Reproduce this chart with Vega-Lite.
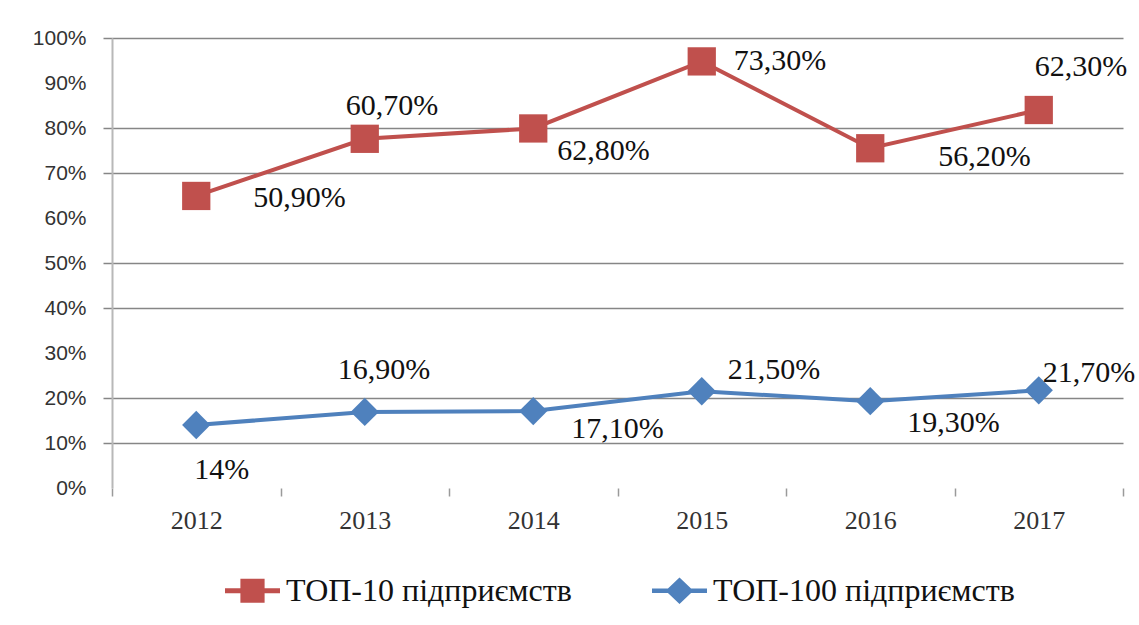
{
  "$schema": "https://vega.github.io/schema/vega-lite/v6.json",
  "width": 1011,
  "height": 450,
  "autosize": {"type": "none"},
  "padding": {"left": 112, "top": 38, "right": 16, "bottom": 137},
  "background": "white",
  "config": {"view": {"stroke": null}, "font": "Liberation Serif"},
  "data": {
    "values": [
      {"year": "2012", "series": "ТОП-10 підприємств", "value": 0.509, "label": "50,90%"},
      {"year": "2013", "series": "ТОП-10 підприємств", "value": 0.607, "label": "60,70%"},
      {"year": "2014", "series": "ТОП-10 підприємств", "value": 0.628, "label": "62,80%"},
      {"year": "2015", "series": "ТОП-10 підприємств", "value": 0.733, "label": "73,30%"},
      {"year": "2016", "series": "ТОП-10 підприємств", "value": 0.562, "label": "56,20%"},
      {"year": "2017", "series": "ТОП-10 підприємств", "value": 0.623, "label": "62,30%"},
      {"year": "2012", "series": "ТОП-100 підприємств", "value": 0.14, "label": "14%"},
      {"year": "2013", "series": "ТОП-100 підприємств", "value": 0.169, "label": "16,90%"},
      {"year": "2014", "series": "ТОП-100 підприємств", "value": 0.171, "label": "17,10%"},
      {"year": "2015", "series": "ТОП-100 підприємств", "value": 0.215, "label": "21,50%"},
      {"year": "2016", "series": "ТОП-100 підприємств", "value": 0.193, "label": "19,30%"},
      {"year": "2017", "series": "ТОП-100 підприємств", "value": 0.217, "label": "21,70%"}
    ]
  },
  "transform": [
    {"stack": "value", "groupby": ["year"], "sort": [{"field": "series", "order": "descending"}], "as": ["v0", "v1"]}
  ],
  "encoding": {
    "x": {
      "field": "year", "type": "ordinal",
      "scale": {"type": "band", "paddingInner": 0, "paddingOuter": 0},
      "axis": {
        "title": null, "labelAngle": 0, "domain": false, "grid": false,
        "tickBand": "extent", "ticks": true, "tickSize": 8, "tickColor": "#9a9a9a", "tickWidth": 1.5,
        "labelFont": "Liberation Serif", "labelFontSize": 26, "labelColor": "#333333", "labelPadding": 11
      }
    },
    "y": {
      "field": "v1", "type": "quantitative",
      "scale": {"domain": [0, 1], "nice": false},
      "axis": {
        "title": null,
        "values": [0, 0.1, 0.2, 0.3, 0.4, 0.5, 0.6, 0.7, 0.8, 0.9, 1],
        "format": ".0%",
        "labelFont": "Liberation Sans", "labelFontSize": 21, "labelColor": "#333333", "labelPadding": 17,
        "domainColor": "#b8b8b8", "domainWidth": 2,
        "tickSize": 9, "tickColor": "#868686", "tickWidth": 1.5,
        "tickOpacity": {"condition": {"test": "datum.value === 0 || datum.value === 0.3 || datum.value === 0.6 || datum.value === 0.9", "value": 0}, "value": 1},
        "grid": true, "gridColor": "#868686", "gridWidth": 1.5,
        "gridOpacity": {"condition": {"test": "datum.value === 0 || datum.value === 0.3 || datum.value === 0.6 || datum.value === 0.9", "value": 0}, "value": 1}
      }
    }
  },
  "layer": [
    {
      "mark": {"type": "line", "strokeWidth": 4},
      "encoding": {
        "color": {
          "field": "series", "type": "nominal",
          "scale": {"domain": ["ТОП-10 підприємств", "ТОП-100 підприємств"], "range": ["#C0504D", "#4F81BD"]},
          "legend": {
            "orient": "none", "legendX": 113, "legendY": 525, "direction": "horizontal", "title": null,
            "labelFont": "Liberation Serif", "labelFontSize": 32, "labelColor": "#111111", "labelLimit": 500,
            "symbolSize": 3025, "columnPadding": 80, "labelOffset": 6,
            "encode": {
              "symbols": {
                "update": {
                  "shape": {"signal": "datum.value === 'ТОП-10 підприємств' ? 'M-1,-0.09H-0.44V-0.44H0.44V-0.09H1V0.09H0.44V0.44H-0.44V0.09H-1Z' : 'M-1,-0.08H-0.42L0,-0.48L0.42,-0.08H1V0.08H0.42L0,0.48L-0.42,0.08H-1Z'"},
                  "fill": {"signal": "scale('color', datum.value)"},
                  "stroke": {"value": "transparent"},
                  "strokeWidth": {"value": 0},
                  "opacity": {"value": 1}
                }
              }
            }
          }
        }
      }
    },
    {
      "transform": [{"filter": "datum.series === 'ТОП-10 підприємств'"}],
      "mark": {"type": "point", "shape": "square", "filled": true, "size": 800, "opacity": 1, "color": "#C0504D"}
    },
    {
      "transform": [{"filter": "datum.series === 'ТОП-100 підприємств'"}],
      "mark": {"type": "point", "shape": "diamond", "filled": true, "size": 800, "opacity": 1, "color": "#4F81BD"}
    },
    {"transform": [{"filter": "datum.label === '50,90%'"}], "mark": {"type": "text", "align": "left", "baseline": "middle", "dx": 57, "dy": 2, "font": "Liberation Serif", "fontSize": 30, "color": "#111111"}, "encoding": {"text": {"field": "label"}}},
    {"transform": [{"filter": "datum.label === '60,70%'"}], "mark": {"type": "text", "align": "left", "baseline": "middle", "dx": -19, "dy": -33, "font": "Liberation Serif", "fontSize": 30, "color": "#111111"}, "encoding": {"text": {"field": "label"}}},
    {"transform": [{"filter": "datum.label === '62,80%'"}], "mark": {"type": "text", "align": "left", "baseline": "middle", "dx": 24, "dy": 23, "font": "Liberation Serif", "fontSize": 30, "color": "#111111"}, "encoding": {"text": {"field": "label"}}},
    {"transform": [{"filter": "datum.label === '73,30%'"}], "mark": {"type": "text", "align": "left", "baseline": "middle", "dx": 32, "dy": 0, "font": "Liberation Serif", "fontSize": 30, "color": "#111111"}, "encoding": {"text": {"field": "label"}}},
    {"transform": [{"filter": "datum.label === '56,20%'"}], "mark": {"type": "text", "align": "left", "baseline": "middle", "dx": 68, "dy": 9, "font": "Liberation Serif", "fontSize": 30, "color": "#111111"}, "encoding": {"text": {"field": "label"}}},
    {"transform": [{"filter": "datum.label === '62,30%'"}], "mark": {"type": "text", "align": "left", "baseline": "middle", "dx": -4, "dy": -43, "font": "Liberation Serif", "fontSize": 30, "color": "#111111"}, "encoding": {"text": {"field": "label"}}},
    {"transform": [{"filter": "datum.label === '14%'"}], "mark": {"type": "text", "align": "left", "baseline": "middle", "dx": -2, "dy": 45, "font": "Liberation Serif", "fontSize": 30, "color": "#111111"}, "encoding": {"text": {"field": "label"}}},
    {"transform": [{"filter": "datum.label === '16,90%'"}], "mark": {"type": "text", "align": "left", "baseline": "middle", "dx": -27, "dy": -42, "font": "Liberation Serif", "fontSize": 30, "color": "#111111"}, "encoding": {"text": {"field": "label"}}},
    {"transform": [{"filter": "datum.label === '17,10%'"}], "mark": {"type": "text", "align": "left", "baseline": "middle", "dx": 38, "dy": 18, "font": "Liberation Serif", "fontSize": 30, "color": "#111111"}, "encoding": {"text": {"field": "label"}}},
    {"transform": [{"filter": "datum.label === '21,50%'"}], "mark": {"type": "text", "align": "left", "baseline": "middle", "dx": 26, "dy": -21, "font": "Liberation Serif", "fontSize": 30, "color": "#111111"}, "encoding": {"text": {"field": "label"}}},
    {"transform": [{"filter": "datum.label === '19,30%'"}], "mark": {"type": "text", "align": "left", "baseline": "middle", "dx": 37, "dy": 22, "font": "Liberation Serif", "fontSize": 30, "color": "#111111"}, "encoding": {"text": {"field": "label"}}},
    {"transform": [{"filter": "datum.label === '21,70%'"}], "mark": {"type": "text", "align": "left", "baseline": "middle", "dx": 4, "dy": -17, "font": "Liberation Serif", "fontSize": 30, "color": "#111111"}, "encoding": {"text": {"field": "label"}}}
  ]
}
